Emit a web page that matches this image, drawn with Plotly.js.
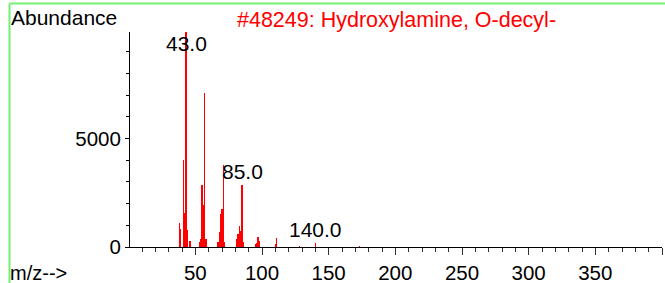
<!DOCTYPE html>
<html>
<head>
<meta charset="utf-8">
<script src="https://cdn.plot.ly/plotly-3.0.1.min.js"></script>
<style>
  html, body { margin: 0; padding: 0; background: #fff; }
  #chart { width: 665px; height: 283px; }
</style>
</head>
<body>
<div id="chart"></div>
<script>
// ---- data ----
const mz = [38, 39, 41, 42, 43, 44, 46,
            53, 54, 55, 56, 57, 58,
            67, 68, 69, 70, 71, 72,
            81, 82, 83, 84, 85, 86,
            95, 96, 97, 98,
            110, 111, 128, 140, 173];
const abundance = [1120, 830, 4030, 1550, 9999, 780, 290,
                   250, 350, 2850, 1920, 7100, 350,
                   250, 690, 1500, 1770, 3770, 230,
                   370, 600, 980, 750, 2840, 213,
                   150, 200, 460, 290,
                   150, 430, 50, 180, 30];
const peakLabelMz = [43, 85, 140];
const peakLabelText = ['43.0', '85.0', '140.0'];
const xTickVals = [50, 100, 150, 200, 250, 300, 350, 400];
const xTickText = ['50', '100', '150', '200', '250', '300', '350', ''];
const yTickVals = [0, 5000];
const yTickText = ['0', '5000'];
const titleText = '#48249: Hydroxylamine, O-decyl-';
const yLabelText = 'Abundance';
const xLabelText = 'm/z-->';

// ---- layout geometry ----
const W = 665, H = 283;
const M = { l: 130, r: 3, t: 32, b: 36 };
const PW = W - M.l - M.r, PH = H - M.t - M.b;
const xRange = [1, 400];
const yRange = [0, 9920];
const px2paperX = px => (px - M.l) / PW;
const py2paperY = py => (H - M.b - py) / PH;
const FONT = 'Liberation Sans, Arial, Helvetica, sans-serif';
const green = '#72f072';

const trace = {
  type: 'bar',
  x: mz,
  y: abundance,
  width: 0.8,
  marker: { color: '#ff0000', line: { width: 0 } },
  hoverinfo: 'x+y'
};

const annotations = peakLabelMz.map((m, i) => {
  const v = abundance[mz.indexOf(m)];
  const clipped = v >= yRange[1];
  return {
    x: m, y: clipped ? yRange[1] : v, xref: 'x', yref: 'y',
    text: peakLabelText[i], showarrow: false,
    xanchor: 'center', yanchor: clipped ? 'top' : 'bottom',
    yshift: clipped ? 2 : 0,
    font: { family: FONT, size: 21, color: '#000' }
  };
});
annotations.push({
  x: px2paperX(9), y: py2paperY(18), xref: 'paper', yref: 'paper',
  text: yLabelText, showarrow: false, xanchor: 'left', yanchor: 'middle',
  font: { family: FONT, size: 21, color: '#000' }
});
annotations.push({
  x: px2paperX(9), y: py2paperY(H), xref: 'paper', yref: 'paper',
  text: xLabelText, showarrow: false, xanchor: 'left', yanchor: 'bottom',
  borderpad: 0, yshift: -2,
  font: { family: FONT, size: 20, color: '#000' }
});

const layout = {
  width: W, height: H,
  margin: M,
  paper_bgcolor: '#ffffff',
  plot_bgcolor: '#ffffff',
  showlegend: false,
  bargap: 0,
  title: {
    text: titleText,
    font: { family: FONT, size: 21.5, color: '#ff0000' },
    xref: 'container', yref: 'container',
    x: 237 / W, xanchor: 'left',
    y: 1 - 19 / H, yanchor: 'middle'
  },
  xaxis: {
    range: xRange,
    showgrid: false, zeroline: false,
    showline: true, linecolor: '#000', linewidth: 1,
    ticks: 'outside', ticklen: 7, tickwidth: 1, tickcolor: '#333',
    tickmode: 'array', tickvals: xTickVals, ticktext: xTickText,
    tickfont: { family: FONT, size: 20.5, color: '#000' },
    minor: { tickmode: 'linear', tick0: 0, dtick: 10, ticks: 'outside', ticklen: 4, tickwidth: 1, tickcolor: '#333', showgrid: false },
    fixedrange: true
  },
  yaxis: {
    range: yRange,
    showgrid: false, zeroline: false,
    showline: true, linecolor: '#000', linewidth: 1,
    ticks: 'outside', ticklen: 4, tickwidth: 1, tickcolor: '#000',
    tickmode: 'array', tickvals: yTickVals, ticktext: yTickText,
    tickfont: { family: FONT, size: 20.5, color: '#000' },
    minor: { tickmode: 'linear', tick0: 0, dtick: 1000, ticks: 'outside', ticklen: 3, tickwidth: 1, tickcolor: '#000', showgrid: false },
    fixedrange: true
  },
  annotations: annotations,
  shapes: [
    { type: 'line', xref: 'paper', yref: 'paper',
      x0: px2paperX(9.5), x1: px2paperX(W), y0: py2paperY(3.5), y1: py2paperY(3.5),
      line: { color: green, width: 2 } },
    { type: 'line', xref: 'paper', yref: 'paper',
      x0: px2paperX(9.5), x1: px2paperX(9.5), y0: py2paperY(3.5), y1: py2paperY(H),
      line: { color: green, width: 2 } }
  ]
};

Plotly.newPlot('chart', [trace], layout, { staticPlot: true, displayModeBar: false });
</script>
</body>
</html>
